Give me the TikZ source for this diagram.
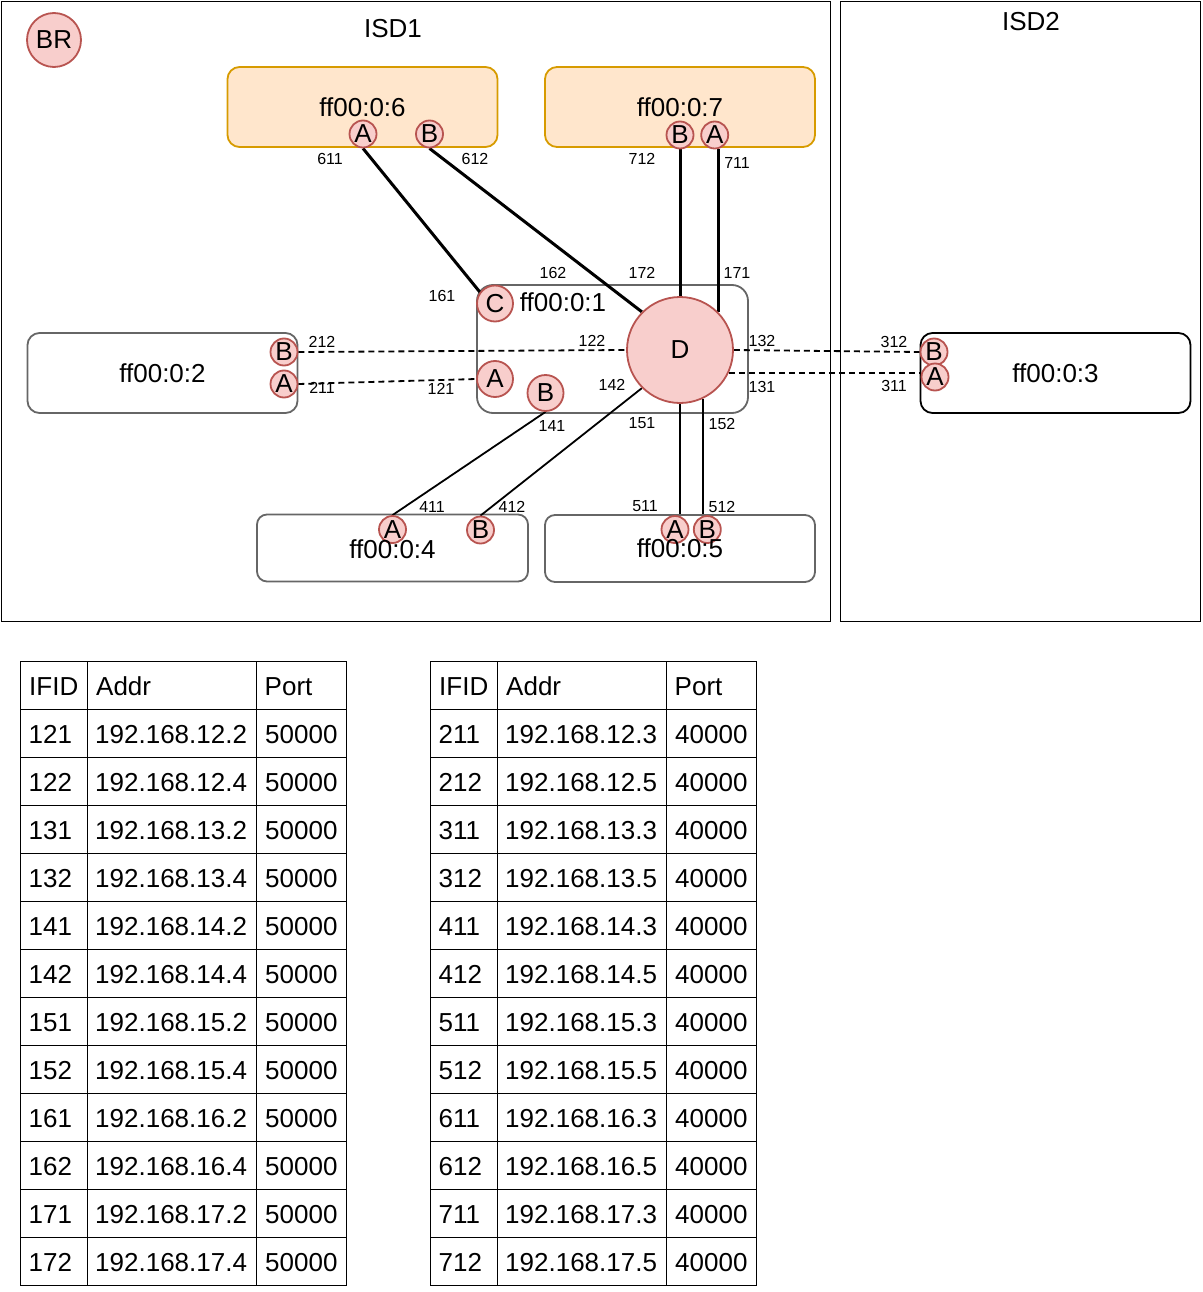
\documentclass[tikz,border=0pt]{standalone}
\usepackage{fontspec}
\setmainfont{Liberation Sans}
\definecolor{cfill}{HTML}{F8CECC}
\definecolor{cline}{HTML}{B85450}
\definecolor{ofill}{HTML}{FFE6CC}
\definecolor{oline}{HTML}{D79B00}
\definecolor{gline}{HTML}{666666}
\pgfdeclarelayer{bg}
\pgfdeclarelayer{mid}
\pgfsetlayers{bg,mid,main}
\tikzset{
  big/.style={font=\fontsize{26pt}{30pt}\selectfont},
  small/.style={font=\fontsize{16pt}{19pt}\selectfont, inner sep=0pt},
  port/.style={circle, draw=cline, fill=cfill, line width=1.8pt, inner sep=0pt, minimum size=27pt, big},
  asbox/.style={draw=gline, fill=white, line width=1.8pt, rounded corners=12pt, minimum width=270pt, minimum height=80pt, inner sep=0pt, big},
  orbox/.style={asbox, draw=oline, fill=ofill},
  isdbox/.style={draw=black, line width=1pt, inner sep=0pt, anchor=north west},
  heavylink/.style={line width=3pt},
  lightlink/.style={line width=1.8pt},
  dlink/.style={line width=1.8pt, dash pattern=on 6pt off 4pt},
  cell/.style={big, anchor=base west, inner sep=0pt},
  grid/.style={line width=1pt, draw=black},
}
\begin{document}
\begin{tikzpicture}[x=1pt, y=-1pt]
\useasboundingbox (0,0) rectangle (1202,1292);

\begin{pgfonlayer}{bg}
  \node[isdbox, minimum width=829.5pt, minimum height=619.5pt] (isd1) at (0.5,1.5) {};
  \node[isdbox, minimum width=360pt, minimum height=619.5pt] (isd2) at (840,1.5) {};
  \node[orbox] (as6) at (362.5,107) {ff00:0:6};
  \node[orbox] (as7) at (680,107) {ff00:0:7};
  \node[asbox, minimum width=271pt, minimum height=128pt, rounded corners=16pt] (as1) at (612.5,349) {};
  \node[asbox] (as2) at (162.5,373) {ff00:0:2};
  \node[asbox, draw=black] (as3) at (1055.5,373) {ff00:0:3};
  \node[asbox, minimum width=271pt, minimum height=67pt, rounded corners=10pt] (as4) at (392.5,548) {};
  \node[asbox, minimum height=67pt, rounded corners=10pt] (as5) at (680,548.5) {};
\end{pgfonlayer}

% titles
\node[big] (isd1t) at (393,29) {ISD1};
\node[big] (isd2t) at (1031,22) {ISD2};
\node[big] (as1t) at (563,302) {ff00:0:1};

% border routers
\node[port, minimum size=54pt] (br) at (54,40) {BR};
\node[port] (p6a) at (363,134) {A};
\node[port] (p6b) at (429.5,134) {B};
\node[port] (p7b) at (680,135) {B};
\node[port] (p7a) at (714.7,135) {A};
\node[port, minimum size=36pt] (p1c) at (495,303.5) {C};
\node[port, minimum size=36pt] (p1a) at (495,379) {A};
\node[port, minimum size=36pt] (p1b) at (545.5,393) {B};
\node[port, minimum size=106pt] (p1d) at (680,350) {D};
\node[port] (p2b) at (284,352) {B};
\node[port] (p2a) at (284,384) {A};
\node[port] (p3b) at (934,352) {B};
\node[port] (p3a) at (935,377) {A};
\node[port] (p4a) at (392.5,529.5) {A};
\node[port] (p4b) at (480.5,530) {B};
\node[port] (p5a) at (675,529.5) {A};
\node[port] (p5b) at (707.3,529.5) {B};

\node[big] (as4t) at (392.5,549) {ff00:0:4};
\node[big] (as5t) at (680,548.5) {ff00:0:5};

\begin{pgfonlayer}{mid}
  \draw[heavylink] (p6a.south) -- (p1c.143);
  \draw[heavylink] (p6b.south) -- (p1d.135);
  \draw[heavylink] (p7b.south) -- (p1d.north);
  \draw[heavylink] (p1d.45 |- p7a.south) -- (p1d.45);
  \draw[dlink] (p2b.east) -- (p1d.west);
  \draw[dlink] (p2a.east) -- (p1a.west);
  \draw[dlink] (p1d.east) -- (p3b.west);
  \draw[dlink] (p1d.-25) -- (p1d.-25 -| p3a.west);
  \draw[lightlink] (p1b.south) -- (p4a.north);
  \draw[lightlink] (p1d.225) -- (p4b.north);
  \draw[lightlink] (p1d.south) -- (p1d.south |- as5.north);
  \draw[lightlink] (p1d.-65) -- (p1d.-65 |- as5.north);
\end{pgfonlayer}

% interface labels
\node[small] (l611) at (330,159) {611};
\node[small] (l612) at (475,159) {612};
\node[small] (l712) at (642,159) {712};
\node[small] (l711) at (737,163) {711};
\node[small] (l162) at (553,273) {162};
\node[small] (l172) at (642,273) {172};
\node[small] (l171) at (737,273) {171};
\node[small] (l161) at (442,296) {161};
\node[small] (l212) at (322,342) {212};
\node[small] (l211) at (322,388) {211};
\node[small] (l122) at (592,341) {122};
\node[small] (l121) at (441,389) {121};
\node[small] (l142) at (612,385) {142};
\node[small] (l132) at (762,341) {132};
\node[small] (l131) at (762,387) {131};
\node[small] (l312) at (894,342) {312};
\node[small] (l311) at (894,386) {311};
\node[small] (l141) at (552,426) {141};
\node[small] (l151) at (642,423) {151};
\node[small] (l152) at (722,424) {152};
\node[small] (l411) at (432,507) {411};
\node[small] (l412) at (512,507) {412};
\node[small] (l511) at (645,506) {511};
\node[small] (l512) at (722,507) {512};

% left table
\draw[grid] (20,661) rectangle (346,1285);
\foreach \i in {1,...,12} \draw[grid] (20,{661+48*\i}) -- (346,{661+48*\i});
\draw[grid] (87,661) -- (87,1285);
\draw[grid] (256,661) -- (256,1285);
\node[cell] (lh1) at (29,695) {IFID};
\node[cell] (lh2) at (96,695) {Addr};
\node[cell] (lh3) at (264.5,695) {Port};
\foreach \id/\ad [count=\i] in {121/192.168.12.2,122/192.168.12.4,131/192.168.13.2,132/192.168.13.4,141/192.168.14.2,142/192.168.14.4,151/192.168.15.2,152/192.168.15.4,161/192.168.16.2,162/192.168.16.4,171/192.168.17.2,172/192.168.17.4}{
  \node[cell] (la\i) at (28.5,{695+48*\i}) {\id};
  \node[cell] (lb\i) at (95,{695+48*\i}) {\ad};
  \node[cell] (lc\i) at (265,{695+48*\i}) {50000};
}

% right table
\draw[grid] (430,661) rectangle (756,1285);
\foreach \i in {1,...,12} \draw[grid] (430,{661+48*\i}) -- (756,{661+48*\i});
\draw[grid] (497,661) -- (497,1285);
\draw[grid] (666,661) -- (666,1285);
\node[cell] (rh1) at (439,695) {IFID};
\node[cell] (rh2) at (506,695) {Addr};
\node[cell] (rh3) at (674.5,695) {Port};
\foreach \id/\ad [count=\i] in {211/192.168.12.3,212/192.168.12.5,311/192.168.13.3,312/192.168.13.5,411/192.168.14.3,412/192.168.14.5,511/192.168.15.3,512/192.168.15.5,611/192.168.16.3,612/192.168.16.5,711/192.168.17.3,712/192.168.17.5}{
  \node[cell] (ra\i) at (438.5,{695+48*\i}) {\id};
  \node[cell] (rb\i) at (505,{695+48*\i}) {\ad};
  \node[cell] (rc\i) at (675,{695+48*\i}) {40000};
}
\end{tikzpicture}
\end{document}
